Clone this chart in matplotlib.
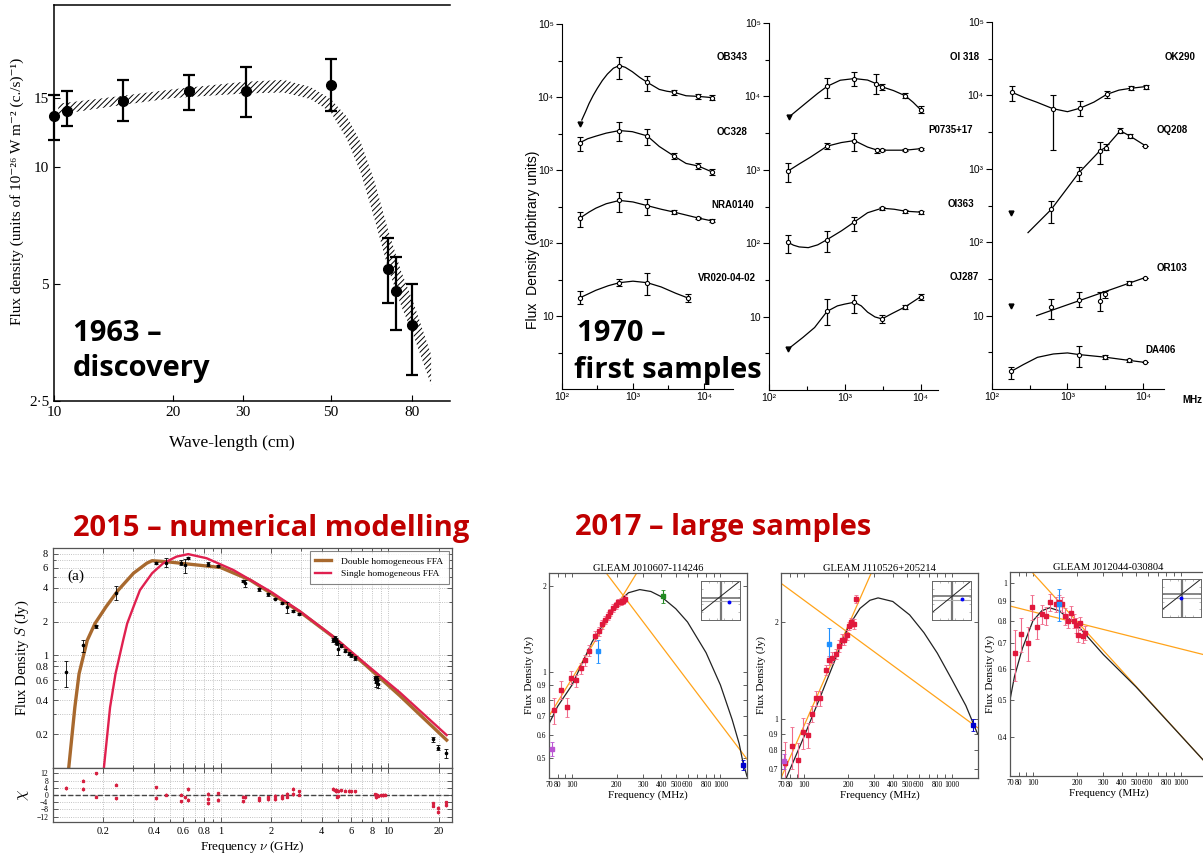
import numpy as np
import matplotlib
matplotlib.use('Agg')
import matplotlib.pyplot as plt
from matplotlib.ticker import FixedLocator, NullLocator

plt.rcParams['font.family'] = ['Liberation Serif', 'DejaVu Serif']
plt.rcParams['mathtext.fontset'] = 'cm'
plt.rcParams['hatch.linewidth'] = 0.7

SANS = ['Liberation Sans', 'DejaVu Sans']
BOLD = ['Open Sans', 'DejaVu Sans']
RED_TXT = '#c00000'

# ===================== DATA =====================
# ---- 1963 discovery (wavelength cm, flux) ----
wl63 = np.array([10.0, 10.8, 14.9, 21.9, 30.6, 50.0, 69.7, 73.0, 80.0])
flux63 = np.array([13.5, 13.9, 14.7, 15.6, 15.6, 16.2, 5.45, 4.78, 3.92])
flux63_lo = np.array([11.7, 12.7, 13.1, 14.0, 13.4, 13.9, 4.45, 3.8, 2.91])
flux63_hi = np.array([15.3, 15.6, 16.7, 17.2, 18.0, 18.9, 6.55, 5.85, 5.0])
band_wl = [10.25, 14.9, 20, 30, 38, 44.5, 50, 55, 59.6, 64.3, 69.7, 75.2, 81.3, 89.6]
band_hi = [14.5, 15.2, 15.8, 16.5, 16.7, 16.0, 14.9, 13.4, 11.5, 9.25, 6.9, 5.4, 4.4, 3.29]
band_lo = [13.6, 14.4, 15.0, 15.4, 15.5, 14.9, 13.8, 11.7, 9.6, 7.4, 5.5, 4.4, 3.63, 2.75]
wl63_ticks = [10, 20, 30, 50, 80]
wl63_ticklabels = ['10', '20', '30', '50', '80']
flux63_ticks = [2.5, 5, 10, 15]
flux63_ticklabels = ['2·5', '5', '10', '15']

# ---- 1970 first samples (MHz, arbitrary units) ----
# points: (freq, flux, err_low, err_high); curve: (freq, flux); lim: upper limits
OB343_pts = [(645, 27000, 17700, 35000), (1590, 15900, 12200, 19600), (3800, 11600, 10700, 12600),
             (8300, 10200, 9500, 10900), (13200, 9800, 9100, 10600)]
OB343_lim = [(180, 4300)]
OB343_curve = [(190, 4840), (215, 6300), (240, 8100), (275, 10500), (314, 13100), (370, 16800),
               (436, 20600), (530, 24800), (645, 27000), (780, 25500), (980, 22200), (1250, 18500),
               (1590, 15900), (2350, 12700), (3000, 12000), (3800, 11600), (5600, 10400), (8300, 10200),
               (13200, 9800)]
OC328_pts = [(180, 2370, 1840, 2800), (645, 3470, 2460, 4500), (1590, 2930, 2200, 3600),
             (3800, 1550, 1420, 1700), (8300, 1135, 1040, 1250), (13200, 935, 860, 1030)]
OC328_curve = [(180, 2370), (230, 2680), (297, 2900), (420, 3200), (645, 3470), (980, 3350), (1590, 2930),
               (2350, 2100), (3800, 1550), (5600, 1230), (8300, 1135), (13200, 935)]
NRAO140_pts = [(180, 220, 164, 270), (645, 383, 263, 500), (1590, 325, 240, 400),
               (3800, 265, 250, 282), (8300, 220, 212, 230), (13200, 200, 192, 210)]
NRAO140_curve = [(180, 220), (240, 265), (300, 300), (420, 345), (645, 383), (1000, 365), (1590, 325),
                 (2500, 290), (3800, 265), (8300, 220), (13200, 200)]
VR020_pts = [(180, 17.8, 14.5, 22), (645, 28.6, 25.5, 32), (1590, 28.6, 19.6, 39), (6000, 17.6, 15.5, 20)]
VR020_curve = [(180, 17.8), (300, 22.5), (450, 26), (645, 28.6), (1000, 30), (1590, 28.6), (2500, 25),
               (4000, 20.5), (6000, 17.6)]

OI318_pts = [(585, 13700, 9600, 17800), (1340, 17500, 13700, 21500), (2600, 14900, 10700, 20000),
             (3100, 13500, 12300, 14800), (6300, 10200, 9400, 11200), (10000, 6600, 5900, 7300)]
OI318_lim = [(182, 5200)]
OI318_curve = [(190, 5400), (315, 8300), (440, 11000), (585, 13700), (870, 16600), (1340, 17500),
               (2000, 16700), (2600, 14900), (3100, 13500), (4400, 12000), (6300, 10200), (8000, 8300),
               (10000, 6600)]
P0735_pts = [(178, 960, 680, 1230), (585, 2100, 1900, 2350), (1340, 2500, 1800, 3150),
             (2700, 1850, 1700, 1950), (3100, 1850, 1780, 1920), (6300, 1850, 1800, 1900),
             (10000, 1940, 1880, 2000)]
P0735_curve = [(178, 960), (250, 1200), (350, 1480), (585, 2100), (900, 2350), (1340, 2500), (2000, 2040),
               (2700, 1850), (3100, 1850), (6300, 1850), (10000, 1940)]
OI363_pts = [(178, 103, 74, 129), (585, 112, 76, 148), (1340, 195, 145, 230),
             (3100, 300, 285, 315), (6300, 273, 260, 287), (10000, 265, 252, 278)]
OI363_curve = [(178, 103), (210, 94), (250, 89), (330, 87), (440, 95), (585, 112), (910, 148), (1340, 195),
               (2000, 260), (3100, 300), (4500, 290), (6300, 273), (10000, 265)]
OJ287_pts = [(585, 11.8, 7.6, 17.5), (1340, 15.7, 11.2, 19.6), (3100, 9.3, 8.3, 10.6),
             (6300, 13.6, 12.7, 14.6), (10000, 18.6, 17.0, 20.5)]
OJ287_lim = [(178, 3.6)]
OJ287_curve = [(178, 3.6), (280, 5.2), (400, 7.1), (585, 11.8), (800, 14.0), (1000, 14.8), (1340, 15.7),
               (1650, 14.0), (2000, 11.5), (2500, 9.9), (3100, 9.3), (4200, 11.0), (6300, 13.6), (10000, 18.6)]

OK290_pts = [(185, 11000, 8300, 13600), (640, 6600, 1820, 10200), (1470, 6700, 5200, 8300),
             (3300, 10300, 9300, 11400), (6900, 12500, 11700, 13400), (10900, 13200, 12400, 14000)]
OK290_curve = [(185, 11000), (270, 9300), (390, 8100), (640, 6600), (1000, 6000), (1470, 6700), (2240, 8100),
               (3300, 10300), (4800, 11800), (6900, 12500), (10900, 13200)]
OQ208_pts = [(610, 280, 185, 365), (1400, 870, 690, 1050), (2700, 1770, 1170, 2350),
             (3200, 1950, 1800, 2150), (5000, 3300, 3050, 3550), (6700, 2800, 2650, 2950),
             (10700, 2070, 2070, 2070)]
OQ208_lim = [(178, 250)]
OQ208_curve = [(300, 135), (610, 280), (1400, 870), (2700, 1770), (3200, 1950), (5000, 3300),
               (6700, 2800), (10700, 2070)]
OR103_pts = [(610, 13, 8.9, 17), (1400, 16.5, 12.9, 21), (2700, 15.8, 11.5, 21),
             (3100, 19.5, 17.5, 21.5), (6600, 28, 26.5, 29.5), (10700, 33, 33, 33)]
OR103_lim = [(178, 13.5)]
OR103_curve = [(390, 10), (10700, 33)]
DA406_pts = [(180, 1.74, 1.38, 2.0), (1400, 2.95, 2.0, 3.9), (3100, 2.72, 2.55, 2.9),
             (6600, 2.45, 2.35, 2.55), (10700, 2.3, 2.3, 2.3)]
DA406_curve = [(180, 1.74), (260, 2.15), (400, 2.7), (650, 3.0), (1000, 3.1), (1400, 2.95), (3100, 2.72),
               (6600, 2.45), (10700, 2.3)]

x70_ticks = [1e2, 1e3, 1e4]
x70_labels = ['10²', '10³', '10⁴']
x70_minor = [316.2, 3162]
y70_ticks = [10, 1e2, 1e3, 1e4, 1e5]
y70_labels = ['10', '10²', '10³', '10⁴', '10⁵']
y70_minor = [3.162, 31.62, 316.2, 3162, 31620]

# ---- 2015 numerical modelling (GHz, Jy) ----
f15 = np.array([0.119, 0.15, 0.18, 0.236, 0.41, 0.47, 0.58, 0.61, 0.635, 0.84, 0.96, 1.36, 1.40,
                1.70, 1.91, 2.11, 2.33, 2.5, 2.71, 2.93, 4.7, 4.8, 4.85, 4.9, 4.95, 5.0, 5.2, 5.5,
                5.8, 6.0, 6.3, 8.3, 8.4, 8.5, 8.6, 8.7, 18.4, 19.9, 22.0])
S15 = np.array([0.71, 1.23, 1.82, 3.6, 6.67, 6.67, 6.67, 6.35, 7.3, 6.5, 6.24, 4.6, 4.37,
                3.86, 3.48, 3.2, 2.93, 2.7, 2.49, 2.32, 1.38, 1.42, 1.32, 1.38, 1.30, 1.15, 1.22, 1.10,
                1.04, 1.0, 0.95, 0.63, 0.60, 0.58, 0.62, 0.56, 0.18, 0.152, 0.135])
S15_err = np.array([0.19, 0.15, 0.06, 0.5, 0.15, 0.6, 0.3, 0.9, 0.15, 0.3, 0.1, 0.1, 0.3,
                    0.1, 0.08, 0.06, 0.05, 0.3, 0.05, 0.04, 0.06, 0.08, 0.06, 0.05, 0.05, 0.15, 0.04, 0.03,
                    0.03, 0.03, 0.03, 0.03, 0.03, 0.06, 0.03, 0.05, 0.01, 0.008, 0.012])
double_ffa_f = [0.124, 0.135, 0.143, 0.16, 0.178, 0.207, 0.245, 0.302, 0.363, 0.39, 0.476, 0.63, 1.0,
                1.5, 2.0, 2.97, 4.7, 7.4, 11.7, 22.3]
double_ffa_S = [0.099, 0.346, 0.686, 1.36, 1.92, 2.7, 3.8, 5.37, 6.6, 6.94, 6.8, 6.5, 6.04,
                4.67, 3.56, 2.44, 1.46, 0.81, 0.44, 0.177]
single_ffa_f = [0.201, 0.219, 0.236, 0.262, 0.277, 0.302, 0.33, 0.39, 0.455, 0.546, 0.641, 0.825, 1.19,
                2.0, 2.97, 4.7, 7.4, 11.7, 22.3]
single_ffa_S = [0.099, 0.346, 0.686, 1.36, 1.92, 2.7, 3.8, 5.37, 6.6, 7.55, 7.94, 7.3, 5.74,
                3.67, 2.47, 1.47, 0.83, 0.47, 0.196]
res_f = [0.119, 0.15, 0.15, 0.18, 0.18, 0.236, 0.236, 0.41, 0.41, 0.47, 0.58, 0.58, 0.61, 0.635, 0.635,
         0.84, 0.84, 0.84, 0.96, 0.96, 1.36, 1.36, 1.40, 1.70, 1.70, 1.91, 1.91, 2.11, 2.11, 2.33, 2.33,
         2.5, 2.5, 2.71, 2.71, 2.93, 2.93, 4.7, 4.8, 4.85, 4.9, 4.95, 5.0, 5.0, 5.2, 5.5, 5.8, 6.0, 6.3,
         8.3, 8.4, 8.5, 8.6, 8.7, 9.0, 9.3, 9.6, 18.4, 18.4, 19.9, 19.9, 22.0, 22.0]
res_chi = [3.9, 7.9, 3.3, 12.1, -0.9, 5.7, -1.8, 4.2, -1.7, 0.2, 0.2, -3.5, -1.3, 3.3, -2.8,
           0.6, -2.2, -4.6, 0.9, -2.8, -0.9, -3.5, -1.3, -1.7, -2.8, -1.3, -2.4, -0.4, -2.2, -0.4, -1.7,
           0.6, -0.9, 3.3, 0.6, 2.0, 0.2, 3.3, 2.6, 2.0, 3.0, -0.9, 2.4, -0.8, 2.6, 2.4, 2.2, 2.0, 2.0,
           0.4, -0.6, -1.3, 0.2, -0.4, -0.2, 0.0, 0.2, -4.6, -5.9, -7.2, -9.5, -4.0, -5.5]
x15_ticks = [0.2, 0.4, 0.6, 0.8, 1, 2, 4, 6, 8, 10, 20]
x15_labels = ['0.2', '0.4', '0.6', '0.8', '1', '2', '4', '6', '8', '10', '20']
x15_minor = [0.3, 0.5, 0.7, 0.9, 3, 5, 7, 9]
y15_ticks = [0.2, 0.4, 0.6, 0.8, 1, 2, 4, 6, 8]
y15_labels = ['0.2', '0.4', '0.6', '0.8', '1', '2', '4', '6', '8']
y15_minor = [0.3, 0.5, 0.7, 0.9, 3, 5, 7]
chi_ticks = [-12, -8, -4, 0, 4, 8, 12]
chi_labels = ['−12', '−8', '−4', '0', '4', '8', '12']

# ---- 2017 GLEAM large samples (MHz, Jy) ----
g1_f = [75.7, 84, 92, 99, 107, 114.5, 123, 130, 143, 151, 158.5, 166, 174, 181, 190, 198, 205, 213, 220, 229]
g1_S = [0.733, 0.867, 0.753, 0.955, 0.934, 1.03, 1.10, 1.19, 1.34, 1.39, 1.47, 1.53, 1.58, 1.62, 1.68,
        1.72, 1.76, 1.77, 1.78, 1.81]
g1_e = [0.077, 0.065, 0.06, 0.05, 0.045, 0.045, 0.05, 0.05, 0.05, 0.05, 0.05, 0.05, 0.05, 0.05, 0.05,
        0.05, 0.05, 0.05, 0.05, 0.05]
g1_extra = [(73.8, 0.536, 0.03, 'mediumorchid'), (150, 1.19, 0.11, 'dodgerblue'),
            (409, 1.85, 0.1, 'forestgreen'), (1420, 0.472, 0.02, 'mediumblue')]
g1_fit_f = [70, 80, 100, 137, 170, 200, 240, 286, 340, 400, 500, 600, 800, 1000, 1200, 1337, 1420, 1510]
g1_fit_S = [0.658, 0.757, 0.9, 1.28, 1.53, 1.74, 1.9, 1.95, 1.92, 1.84, 1.67, 1.5, 1.17, 0.9, 0.68, 0.56,
            0.48, 0.43]
g1_pl1 = [(70, 0.70), (273, 2.23)]
g1_pl2 = [(170, 2.23), (1510, 0.494)]
g1_inset = dict(vx=0.51, hy1=0.556, hy2=0.487, d0=0.21, dot=(0.73, 0.47))

g2_f = [74.8, 83, 91, 98, 106, 113, 121, 129, 141, 148, 156, 164, 172, 180, 188, 195, 202, 210, 218, 226]
g2_S = [0.73, 0.823, 0.745, 0.91, 0.894, 1.04, 1.16, 1.16, 1.42, 1.52, 1.55, 1.59, 1.68, 1.76, 1.76,
        1.82, 1.94, 1.99, 1.97, 2.35]
g2_e = [0.12, 0.12, 0.1, 0.1, 0.08, 0.06, 0.06, 0.06, 0.05, 0.05, 0.06, 0.06, 0.07, 0.07, 0.07,
        0.06, 0.06, 0.06, 0.07, 0.07]
g2_extra = [(73.6, 0.74, 0.04, 'mediumorchid'), (148, 1.71, 0.2, 'dodgerblue'),
            (1400, 0.96, 0.04, 'mediumblue')]
g2_fit_f = [76, 100, 130, 165, 200, 240, 280, 318, 400, 520, 650, 800, 1000, 1250, 1500]
g2_fit_S = [0.657, 0.88, 1.18, 1.55, 1.93, 2.2, 2.33, 2.37, 2.31, 2.1, 1.85, 1.6, 1.33, 1.1, 0.9]
g2_pl1 = [(70, 0.657), (286, 2.83)]
g2_pl2 = [(70, 2.63), (1500, 0.94)]
g2_inset = dict(vx=0.5, hy1=0.615, hy2=0.51, d0=0.19, dot=(0.77, 0.53))

g3_f = [75.7, 83.7, 92, 99, 107, 115, 122, 130, 143, 151, 158, 166, 174, 181, 189, 196, 203, 210, 218, 226]
g3_S = [0.66, 0.74, 0.70, 0.867, 0.77, 0.832, 0.825, 0.893, 0.884, 0.893, 0.883, 0.823, 0.80, 0.84,
        0.80, 0.78, 0.735, 0.79, 0.73, 0.745]
g3_e = [0.1, 0.075, 0.07, 0.065, 0.05, 0.045, 0.045, 0.045, 0.04, 0.04, 0.04, 0.04, 0.035, 0.035,
        0.035, 0.035, 0.03, 0.03, 0.03, 0.03]
g3_extra = [(151, 0.884, 0.085, 'dodgerblue')]
g3_fit_f = [70, 75, 85, 100, 115, 130, 150, 200, 300, 500, 1000, 1470]
g3_fit_S = [0.50, 0.574, 0.68, 0.80, 0.85, 0.865, 0.85, 0.78, 0.655, 0.54, 0.405, 0.345]
g3_pl1 = [(98.5, 1.07), (1470, 0.345)]
g3_pl2 = [(70, 0.874), (1470, 0.653)]
g3_inset = dict(vx=0.5, hy1=0.61, hy2=0.5, d0=0.19, dot=(0.48, 0.51))

gleam_xticks = [70, 80, 100, 200, 300, 400, 500, 600, 800, 1000]
gleam_xminor = [90, 700, 900]

# ===================== FIGURE =====================
W, H = 1203, 856
fig = plt.figure(figsize=(W / 100, H / 100), dpi=100)
fig.patch.set_facecolor('white')


def ax_px(l, t, r, b):
    return fig.add_axes([l / W, 1 - b / H, (r - l) / W, (b - t) / H])


def fig_txt(x, y, s, **kw):
    return fig.text(x / W, 1 - y / H, s, **kw)


# ---------- Panel 1963 ----------
ax1 = ax_px(54, 5, 450, 401)
ax1.set_xscale('log')
ax1.set_yscale('log')
ax1.set_xlim(10, 100)
ax1.set_ylim(2.5, 26)
ax1.fill_between(band_wl, band_lo, band_hi, facecolor='none', edgecolor='black',
                 hatch='//////', linewidth=0)
ax1.errorbar(wl63, flux63, yerr=[flux63 - flux63_lo, flux63_hi - flux63], fmt='o', color='black',
             ms=7, elinewidth=1.6, capsize=4.5, capthick=1.6, clip_on=False, zorder=3)
ax1.spines['right'].set_visible(False)
for s in ['left', 'bottom', 'top']:
    ax1.spines[s].set_linewidth(1.1)
ax1.set_xticks(wl63_ticks, wl63_ticklabels)
ax1.xaxis.set_minor_locator(NullLocator())
ax1.set_yticks(flux63_ticks, flux63_ticklabels)
ax1.yaxis.set_minor_locator(NullLocator())
ax1.tick_params(which='both', direction='in', length=4, labelsize=11)
ax1.set_xlabel('Wave-length (cm)', fontsize=12.5)
ax1.xaxis.set_label_coords(0.45, -0.085)
ax1.set_ylabel('Flux density (units of 10⁻²⁶ W m⁻² (c./s)⁻¹)', fontsize=11)
ax1.yaxis.set_label_coords(-0.076, 0.53)

fig_txt(73, 341, '1963 –', fontsize=21, fontweight='bold', family=BOLD, va='baseline')
fig_txt(73, 376, 'discovery', fontsize=21, fontweight='bold', family=BOLD, va='baseline')


# ---------- Panel 1970 ----------
def setup70(ax, xmax):
    ax.set_xscale('log')
    ax.set_yscale('log')
    ax.set_xlim(100, xmax)
    ax.set_ylim(1, 1e5)
    ax.spines['top'].set_visible(False)
    ax.spines['right'].set_visible(False)
    ax.set_xticks(x70_ticks, x70_labels, fontfamily=SANS, fontsize=7.5)
    ax.xaxis.set_minor_locator(FixedLocator(x70_minor))
    ax.set_yticks(y70_ticks, y70_labels, fontfamily=SANS, fontsize=7.5)
    ax.yaxis.set_minor_locator(FixedLocator(y70_minor))
    ax.tick_params(axis='x', which='both', direction='in')
    ax.tick_params(axis='y', which='both', direction='out')
    ax.tick_params(which='major', length=4, width=0.8, pad=2)
    ax.tick_params(which='minor', length=3, width=0.8)
    ax.patch.set_alpha(0)


def draw70(ax, pts, curve, lims=()):
    cf, cs = zip(*curve)
    ax.plot(cf, cs, '-', color='black', lw=0.9, solid_joinstyle='round')
    f, s, lo, hi = map(np.array, zip(*pts))
    ax.errorbar(f, s, yerr=[s - lo, hi - s], fmt='o', mfc='white', mec='black', ms=3, mew=0.8,
                ecolor='black', elinewidth=0.9, capsize=2, capthick=0.9, zorder=3)
    for (lf, ls) in lims:
        ax.plot([lf], [ls], marker='v', color='black', ms=3.5, zorder=3)


ax2a = ax_px(562, 24, 733, 389)
setup70(ax2a, 25700)
draw70(ax2a, OB343_pts, OB343_curve, OB343_lim)
draw70(ax2a, OC328_pts, OC328_curve)
draw70(ax2a, NRAO140_pts, NRAO140_curve)
draw70(ax2a, VR020_pts, VR020_curve)
ax2a.set_ylabel('Flux  Density (arbitrary units)', fontsize=10, family=SANS)
ax2a.yaxis.set_label_coords(-0.13, 0.41)

ax2b = ax_px(769, 23, 938, 390)
setup70(ax2b, 17000)
draw70(ax2b, OI318_pts, OI318_curve, OI318_lim)
draw70(ax2b, P0735_pts, P0735_curve)
draw70(ax2b, OI363_pts, OI363_curve)
draw70(ax2b, OJ287_pts, OJ287_curve, OJ287_lim)

ax2c = ax_px(992, 22, 1164, 389)
setup70(ax2c, 19000)
draw70(ax2c, OK290_pts, OK290_curve)
draw70(ax2c, OQ208_pts, OQ208_curve, OQ208_lim)
draw70(ax2c, OR103_pts, OR103_curve, OR103_lim)
draw70(ax2c, DA406_pts, DA406_curve)

names70 = [(717, 57, 'OB343'), (717, 132, 'OC328'), (711, 205, 'NRA0140'), (698, 278, 'VR020-04-02'),
           (950, 57, 'OI 318'), (928, 130, 'P0735+17'), (948, 204, 'OI363'), (950, 277, 'OJ287'),
           (1165, 57, 'OK290'), (1157, 130, 'OQ208'), (1157, 268, 'OR103'), (1145, 350, 'DA406'),
           (1182, 400, 'MHz')]
for x, y, s in names70:
    fig_txt(x, y, s, fontsize=7, fontweight='bold', family=SANS, va='center')

fig_txt(577, 341, '1970 –', fontsize=21, fontweight='bold', family=BOLD, va='baseline')
fig_txt(574, 378, 'first samples', fontsize=21, fontweight='bold', family=BOLD, va='baseline')

# ---------- Panel 2015 ----------
C_BROWN = '#a8692e'
C_RED = '#e0204f'
ax3 = ax_px(53, 548, 452, 768)
ax3r = ax_px(53, 768, 452, 822)
for a in (ax3, ax3r):
    a.set_xscale('log')
    a.set_xlim(0.1, 24)
    a.set_xticks(x15_ticks, x15_labels, fontsize=7.5)
    a.xaxis.set_minor_locator(FixedLocator(x15_minor))
    a.tick_params(which='both', direction='in', top=True, right=True, width=0.6, color='#444')
    a.tick_params(which='major', length=3.5)
    a.tick_params(which='minor', length=2)
    a.grid(which='both', ls=':', color='#b0b0b0', lw=0.6)
    for s in a.spines.values():
        s.set_color('#555')
        s.set_linewidth(0.9)
ax3.tick_params(labelbottom=False)
ax3.set_yscale('log')
ax3.set_ylim(0.1, 9)
ax3.set_yticks(y15_ticks, y15_labels, fontsize=7.5)
ax3.yaxis.set_minor_locator(FixedLocator(y15_minor))
ax3.plot(double_ffa_f, double_ffa_S, color=C_BROWN, lw=2.4, label='Double homogeneous FFA')
ax3.plot(single_ffa_f, single_ffa_S, color=C_RED, lw=1.7, label='Single homogeneous FFA')
ax3.errorbar(f15, S15, yerr=S15_err, fmt='o', color='black', ms=1.6, elinewidth=0.6, capsize=1.5,
             capthick=0.6, zorder=4)
leg = ax3.legend(loc='upper right', fontsize=6.8, frameon=True, fancybox=False, borderpad=0.6,
                 handlelength=1.7, handletextpad=1.0, borderaxespad=0.35, labelspacing=0.45)
leg.get_frame().set_edgecolor('#666')
leg.get_frame().set_linewidth(0.8)
ax3.text(0.035, 0.855, '(a)', transform=ax3.transAxes, fontsize=11)
ax3.set_ylabel('Flux Density $S$ (Jy)', fontsize=10.5)
ax3.yaxis.set_label_coords(-0.055, 0.5)

ax3r.set_ylim(-15, 15)
ax3r.set_yticks(chi_ticks, chi_labels, fontsize=5.5)
ax3r.yaxis.set_minor_locator(NullLocator())
ax3r.axhline(0, ls='--', color='#444', lw=1.0, zorder=2)
ax3r.errorbar(res_f, res_chi, yerr=0.9, fmt='s', color='#d62040', ms=1.4, elinewidth=0.6, zorder=3)
ax3r.set_ylabel(r'$\chi$', fontsize=12)
ax3r.yaxis.set_label_coords(-0.055, 0.5)
ax3r.set_xlabel(r'Frequency $\nu$ (GHz)', fontsize=9.5, labelpad=2)

fig_txt(73, 536, '2015 – numerical modelling', fontsize=21, fontweight='bold', family=BOLD,
        color=RED_TXT, va='baseline')


# ---------- Panel 2017 ----------
def fmt_tick(v):
    return ('%g' % v)


def gleam(box, ylim, yticks, title, f, S, e, extra, fit_f, fit_S, pl1, pl2, inset_box, ins):
    ax = ax_px(*box)
    ax.set_xscale('log')
    ax.set_yscale('log')
    ax.set_xlim(70, 1510)
    ax.set_ylim(*ylim)
    ax.set_xticks(gleam_xticks, [fmt_tick(t) for t in gleam_xticks], fontsize=5.5)
    ax.xaxis.set_minor_locator(FixedLocator(gleam_xminor))
    ax.set_yticks(yticks, [fmt_tick(t) for t in yticks], fontsize=5.5)
    ax.yaxis.set_minor_locator(NullLocator())
    ax.tick_params(which='both', direction='in', top=True, right=True, width=0.6, length=3, pad=2,
                   color='#444')
    for s in ax.spines.values():
        s.set_color('#555')
        s.set_linewidth(0.9)
    (a0, b0), (a1, b1) = pl1
    ax.plot([a0, a1], [b0, b1], color='#ffa31a', lw=0.9, zorder=2)
    (a0, b0), (a1, b1) = pl2
    ax.plot([a0, a1], [b0, b1], color='#ffa31a', lw=0.9, zorder=2)
    ax.plot(fit_f, fit_S, color='#222', lw=0.9, zorder=2)
    ax.errorbar(f, S, yerr=e, fmt='s', color='#e0183c', ecolor='#f06a8a', ms=2.6, elinewidth=0.8,
                capsize=1.2, capthick=0.6, zorder=4)
    for (xf, xs, xe, xc) in extra:
        ax.errorbar([xf], [xs], yerr=[xe], fmt='s', color=xc, ms=2.6, elinewidth=0.8, capsize=1.2,
                    capthick=0.6, zorder=4)
    ax.set_title(title, fontsize=7.6, pad=1.5)
    ax.set_xlabel('Frequency (MHz)', fontsize=8, labelpad=1)
    ax.set_ylabel('Flux Density (Jy)', fontsize=8, labelpad=2)
    # inset
    ai = ax_px(*inset_box)
    ai.set_xlim(0, 1)
    ai.set_ylim(0, 1)
    ai.set_xticks([0.2, 0.4, 0.6, 0.8], [])
    ai.set_yticks([0.2, 0.4, 0.6, 0.8], [])
    ai.tick_params(direction='in', length=1.5, width=0.4, top=True, right=True, color='#888')
    for s in ai.spines.values():
        s.set_color('#666')
        s.set_linewidth(0.7)
    ai.axvline(ins['vx'], color='#777', lw=1.6)
    ai.axhline(ins['hy1'], color='#666', lw=1.1)
    ai.axhline(ins['hy2'], color='#aaa', lw=0.8)
    ai.plot([0, 1], [ins['d0'], 1], color='#222', lw=0.7)
    ai.plot([ins['dot'][0]], [ins['dot'][1]], 'o', color='blue', ms=1.8)
    return ax


gleam((549, 573, 747, 778), (0.424, 2.23), [0.5, 0.6, 0.7, 0.8, 0.9, 1, 2], 'GLEAM J010607-114246',
      g1_f, g1_S, g1_e, g1_extra, g1_fit_f, g1_fit_S, g1_pl1, g1_pl2, (701, 581, 740, 620), g1_inset)
gleam((781, 573, 978, 778), (0.657, 2.83), [0.7, 0.8, 0.9, 1, 2], 'GLEAM J110526+205214',
      g2_f, g2_S, g2_e, g2_extra, g2_fit_f, g2_fit_S, g2_pl1, g2_pl2, (932, 581, 971, 620), g2_inset)
gleam((1010, 572, 1207, 776), (0.318, 1.07), [0.4, 0.5, 0.6, 0.7, 0.8, 0.9, 1], 'GLEAM J012044-030804',
      g3_f, g3_S, g3_e, g3_extra, g3_fit_f, g3_fit_S, g3_pl1, g3_pl2, (1162, 579, 1201, 617), g3_inset)

fig_txt(575, 535, '2017 – large samples', fontsize=21, fontweight='bold', family=BOLD,
        color=RED_TXT, va='baseline')

fig.savefig('out.png', dpi=100, facecolor='white')
